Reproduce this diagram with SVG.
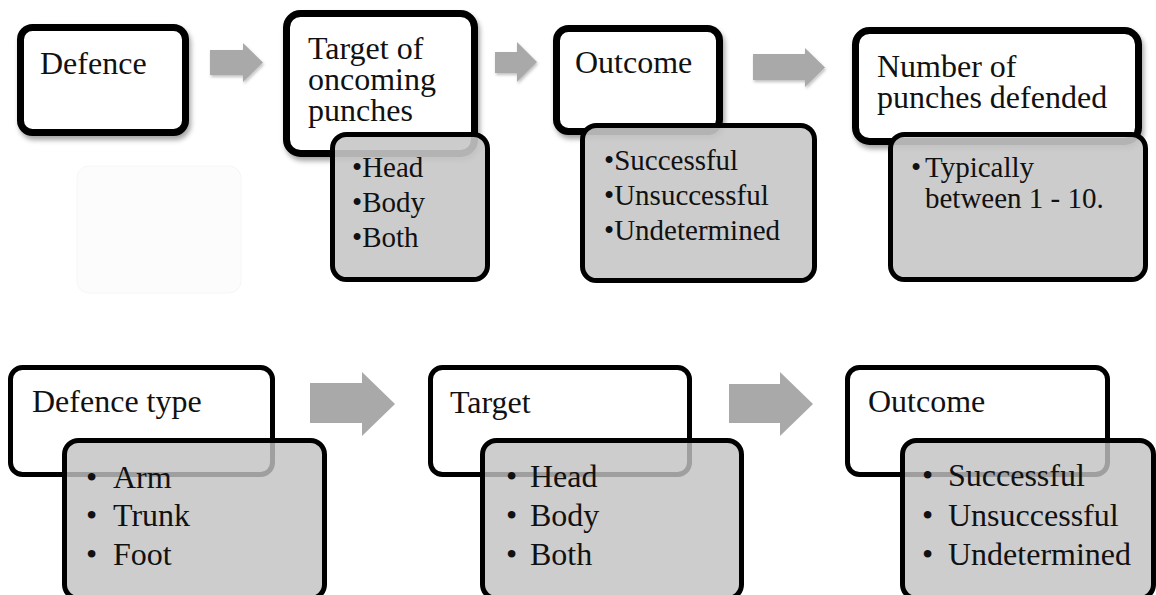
<svg xmlns="http://www.w3.org/2000/svg" width="1156" height="595" viewBox="0 0 1156 595">
  <defs>
    <filter id="soft-shadow" x="-10%" y="-10%" width="130%" height="140%">
      <feDropShadow dx="2" dy="4" stdDeviation="2.5" flood-color="#000" flood-opacity="0.35"/>
    </filter>
    <filter id="arrow-shadow" x="-10%" y="-10%" width="130%" height="140%">
      <feDropShadow dx="1" dy="2" stdDeviation="1.5" flood-color="#000" flood-opacity="0.25"/>
    </filter>
  </defs>
  <style>
    text { fill: #111; }
    .head { font-size: 32px; }
    .item { font-size: 29px; }
    .item-lg { font-size: 32px; }
    .card-top { fill: #fff; stroke: #000; stroke-width: 7; }
    .card-bot { fill: #fff; stroke: #000; stroke-width: 5; }
    .sub-top { fill: #c6c6c6; fill-opacity: 0.9; stroke: #000; stroke-width: 5; }
    .sub-bot { fill: #c2c2c2; fill-opacity: 0.82; stroke: #000; stroke-width: 5; }
    .arrow { fill: #a9a9a9; }
  </style>

  <rect width="1156" height="595" fill="#fff"/>

  <!-- faint empty placeholder panel -->
  <rect x="77" y="166" width="164" height="127" rx="12" fill="#fcfcfc" stroke="#f6f6f6" stroke-width="1"/>

  <!-- flow arrows -->
  <g id="connectors">
    <g filter="url(#arrow-shadow)">
      <polygon class="arrow" points="210,50 243,50 243,43 263,62.5 243,82 243,75 210,75"/>
      <polygon class="arrow" points="495,52 517,52 517,42 537,62 517,82 517,73 495,73"/>
      <polygon class="arrow" points="753,54 805,54 805,48 825,67.5 805,87 805,80 753,80"/>
    </g>
    <polygon class="arrow" points="310,383 362,383 362,372 395,404 362,436 362,423 310,423"/>
    <polygon class="arrow" points="729,384 780,384 780,372 813,404 780,436 780,423 729,423"/>
  </g>

  <g font-family="'Liberation Serif', 'DejaVu Serif', serif">
  <!-- top row -->
  <g id="defence">
    <rect class="card-top" x="20.5" y="27.5" width="165" height="105" rx="12" filter="url(#soft-shadow)"/>
    <text class="head" x="40" y="74">Defence</text>
  </g>

  <g id="target-of-oncoming-punches">
    <rect class="card-top" x="286.5" y="13.5" width="188" height="140" rx="14" filter="url(#soft-shadow)"/>
    <text class="head" x="308" y="59">Target of</text>
    <text class="head" x="308" y="90">oncoming</text>
    <text class="head" x="308" y="121">punches</text>
    <rect class="sub-top" x="332.5" y="134.5" width="155" height="145" rx="14"/>
    <text class="item" x="352" y="177">•Head</text>
    <text class="item" x="352" y="212">•Body</text>
    <text class="item" x="352" y="247">•Both</text>
  </g>

  <g id="outcome-top">
    <rect class="card-top" x="556.5" y="28.5" width="163" height="103" rx="12" filter="url(#soft-shadow)"/>
    <text class="head" x="575" y="73">Outcome</text>
    <rect class="sub-top" x="582.5" y="125.5" width="232" height="155" rx="14"/>
    <text class="item" x="604" y="170">•Successful</text>
    <text class="item" x="604" y="205">•Unsuccessful</text>
    <text class="item" x="604" y="240">•Undetermined</text>
  </g>

  <g id="number-of-punches">
    <rect class="card-top" x="855.5" y="30.5" width="283" height="111" rx="14" filter="url(#soft-shadow)"/>
    <text class="head" x="877" y="77">Number of</text>
    <text class="head" x="877" y="108">punches defended</text>
    <rect class="sub-top" x="890.5" y="134.5" width="255" height="145" rx="14"/>
    <text class="item" x="911" y="177">•</text>
    <text class="item" x="925" y="177">Typically</text>
    <text class="item" x="925" y="208">between 1 - 10.</text>
  </g>

  <!-- bottom row -->
  <g id="defence-type">
    <rect class="card-bot" x="10.5" y="367.5" width="262" height="107" rx="12"/>
    <text class="head" x="32" y="412">Defence type</text>
    <rect class="sub-bot" x="64.5" y="440.5" width="260" height="158" rx="14"/>
    <text class="item-lg" x="86" y="488">•</text>
    <text class="item-lg" x="113" y="488">Arm</text>
    <text class="item-lg" x="86" y="526">•</text>
    <text class="item-lg" x="113" y="526">Trunk</text>
    <text class="item-lg" x="86" y="565">•</text>
    <text class="item-lg" x="113" y="565">Foot</text>
  </g>

  <g id="target">
    <rect class="card-bot" x="430.5" y="367.5" width="259" height="107" rx="12"/>
    <text class="head" x="450" y="413">Target</text>
    <rect class="sub-bot" x="482.5" y="440.5" width="259" height="158" rx="14"/>
    <text class="item-lg" x="506" y="487">•</text>
    <text class="item-lg" x="530" y="487">Head</text>
    <text class="item-lg" x="506" y="526">•</text>
    <text class="item-lg" x="530" y="526">Body</text>
    <text class="item-lg" x="506" y="565">•</text>
    <text class="item-lg" x="530" y="565">Both</text>
  </g>

  <g id="outcome-bottom">
    <rect class="card-bot" x="847.5" y="367.5" width="260" height="107" rx="12"/>
    <text class="head" x="868" y="412">Outcome</text>
    <rect class="sub-bot" x="902.5" y="440.5" width="251" height="158" rx="14"/>
    <text class="item-lg" x="922" y="486">•</text>
    <text class="item-lg" x="948" y="486">Successful</text>
    <text class="item-lg" x="922" y="526">•</text>
    <text class="item-lg" x="948" y="526">Unsuccessful</text>
    <text class="item-lg" x="922" y="565">•</text>
    <text class="item-lg" x="948" y="565">Undetermined</text>
  </g>
  </g>
</svg>
